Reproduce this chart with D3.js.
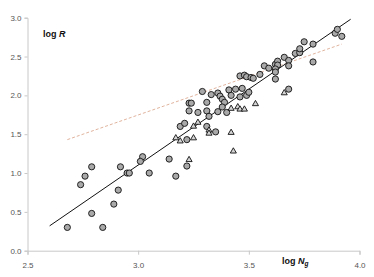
<!DOCTYPE html>
<html lang="en">
<head>
<meta charset="utf-8">
<title>log R vs log Ng</title>
<script src="https://d3js.org/d3.v7.min.js"></script>
<style>
  body { margin: 0; background: #fff; }
  svg text { font-family: "Liberation Sans", Arial, sans-serif; }
</style>
</head>
<body>
<svg id="chart" width="374" height="277"></svg>
<script>
// circles: log Ng, log R
var circleX = [2.68, 2.84, 2.79, 2.89, 2.91, 2.74, 2.76, 2.79, 2.92, 2.95, 2.96, 3.02, 3.01, 3.05,
  3.14, 3.17, 3.22, 3.22, 3.19, 3.21, 3.23, 3.24, 3.31, 3.23, 3.27, 3.31, 3.32, 3.31, 3.35,
  3.29, 3.33, 3.36, 3.37, 3.38, 3.39, 3.38, 3.40, 3.36, 3.41, 3.44, 3.42, 3.47, 3.46, 3.49,
  3.50, 3.46, 3.48, 3.49, 3.51, 3.52, 3.55, 3.57, 3.59, 3.62, 3.63, 3.63, 3.62, 3.62, 3.62,
  3.66, 3.68, 3.68, 3.71, 3.73, 3.73, 3.75, 3.79, 3.79, 3.89, 3.90, 3.92, 3.68];
var circleY = [0.30, 0.30, 0.48, 0.60, 0.78, 0.85, 0.96, 1.08, 1.08, 1.00, 1.00, 1.21, 1.15, 1.00,
  1.18, 0.96, 1.09, 1.43, 1.60, 1.64, 1.90, 1.90, 1.91, 1.80, 1.78, 1.80, 1.73, 1.60, 1.53,
  2.05, 2.01, 2.03, 1.99, 1.95, 1.91, 1.85, 1.78, 1.79, 2.07, 2.08, 2.00, 2.09, 1.98, 2.00,
  2.04, 2.25, 2.26, 2.24, 2.23, 2.22, 2.27, 2.38, 2.35, 2.40, 2.44, 2.39, 2.34, 2.30, 2.21,
  2.49, 2.45, 2.38, 2.54, 2.55, 2.60, 2.69, 2.66, 2.43, 2.80, 2.85, 2.76, 2.08];
// triangles
var triX = [3.17, 3.19, 3.23, 3.25, 3.25, 3.27, 3.32, 3.32, 3.42, 3.42, 3.45, 3.46, 3.48, 3.53, 3.43, 3.66];
var triY = [1.45, 1.41, 1.17, 1.45, 1.60, 1.65, 1.55, 1.51, 1.52, 1.83, 1.85, 1.82, 1.82, 1.89, 1.28, 2.03];
// fitted lines (end points)
var fitX = [2.60, 3.96];
var fitY = [0.32, 2.98];
var dashX = [2.68, 3.92];
var dashY = [1.43, 2.66];
var xTicks = [2.5, 3.0, 3.5, 4.0];
var yTicks = [0.0, 0.5, 1.0, 1.5, 2.0, 2.5, 3.0];

var svg = d3.select("#chart");
var x = d3.scaleLinear().domain([2.5, 4.0]).range([27.5, 359.5]);
var y = d3.scaleLinear().domain([0, 3]).range([250.7, 17.7]);

var axisColor = "#c8c8c8";

// y axis
var ya = svg.append("g")
    .attr("transform", "translate(" + x(2.5) + ",0)")
    .call(d3.axisLeft(y).tickValues(yTicks).tickSize(3).tickPadding(3).tickFormat(d3.format(".1f")));
// x axis
var xa = svg.append("g")
    .attr("transform", "translate(0," + y(0) + ")")
    .call(d3.axisBottom(x).tickValues(xTicks).tickSize(4).tickPadding(8).tickFormat(d3.format(".1f")));
[ya, xa].forEach(function(a) {
    a.select(".domain").attr("stroke", axisColor);
    a.selectAll(".tick line").attr("stroke", axisColor);
    a.selectAll(".tick text").attr("fill", "#555").style("font-size", "8px");
});

// dashed fit line
svg.append("line")
    .attr("x1", x(dashX[0])).attr("y1", y(dashY[0]))
    .attr("x2", x(dashX[1])).attr("y2", y(dashY[1]))
    .attr("stroke", "#dcaa92").attr("stroke-width", 0.9)
    .attr("stroke-dasharray", "3,2");

// solid fit line
svg.append("line")
    .attr("x1", x(fitX[0])).attr("y1", y(fitY[0]))
    .attr("x2", x(fitX[1])).attr("y2", y(fitY[1]))
    .attr("stroke", "#111").attr("stroke-width", 1);

// circles
svg.append("g").selectAll("circle")
    .data(d3.range(circleX.length))
    .enter().append("circle")
    .attr("cx", function(i) { return x(circleX[i]); })
    .attr("cy", function(i) { return y(circleY[i]); })
    .attr("r", 3.1)
    .attr("fill", "#a9a9a9")
    .attr("stroke", "#111")
    .attr("stroke-width", 0.9);

// triangles
var tri = d3.symbol().type(d3.symbolTriangle).size(16);
svg.append("g").selectAll("path")
    .data(d3.range(triX.length))
    .enter().append("path")
    .attr("d", tri)
    .attr("transform", function(i) { return "translate(" + x(triX[i]) + "," + y(triY[i]) + ")"; })
    .attr("fill", "#d4d4d4")
    .attr("stroke", "#111")
    .attr("stroke-width", 0.9);

// axis titles
var yt = svg.append("text").attr("x", 43).attr("y", 37)
    .style("font-size", "9px").style("font-weight", "bold").attr("fill", "#111");
yt.append("tspan").text("log ");
yt.append("tspan").style("font-style", "italic").text("R");

var xt = svg.append("text").attr("x", 282).attr("y", 264)
    .style("font-size", "9px").style("font-weight", "bold").attr("fill", "#111");
xt.append("tspan").text("log ");
xt.append("tspan").style("font-style", "italic").text("N");
xt.append("tspan").style("font-style", "italic").style("font-size", "6.5px").attr("dy", 2).text("g");
</script>
</body>
</html>
